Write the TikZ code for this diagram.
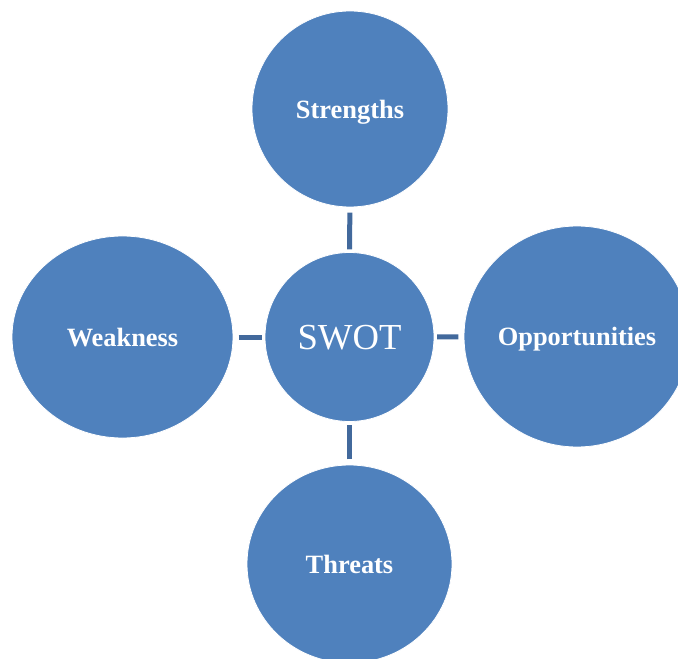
\documentclass[tikz,border=0pt]{standalone}
\usepackage{fontspec}
\setmainfont{Liberation Serif}
\usetikzlibrary{shapes.geometric}
\definecolor{fillblue}{HTML}{4F81BD}
\definecolor{connblue}{HTML}{42699C}
\tikzset{
  bubble/.style={ellipse, fill=fillblue, draw=white, line width=0.6pt, inner sep=0pt, text=white,
    text depth=0pt, font=\fontsize{19.8}{24}\selectfont\bfseries},
  conn/.style={draw=connblue, line width=3.75pt, shorten <=4pt, shorten >=2pt}
}
\begin{document}
\begin{tikzpicture}[x=0.75pt,y=-0.75pt]
\useasboundingbox (0,0) rectangle (678,659);
\clip (0,0) rectangle (678,659);
\node[bubble, minimum width=126.75pt, minimum height=126.75pt, font=\fontsize{27.5}{33}\selectfont] (swot) at (349.5,337) {SWOT};
\node[bubble, minimum width=147pt, minimum height=147pt] (str) at (350,109) {Strengths};
\node[bubble, minimum width=165.75pt, minimum height=151.5pt] (weak) at (122.5,337) {Weakness};
\node[bubble, minimum width=169.5pt, minimum height=165.75pt] (opp) at (577,336.5) {Opportunities};
\node[bubble, minimum width=153.75pt, minimum height=148.5pt] (thr) at (349.5,564) {Threats};
\draw[conn] (str) -- (swot);
\draw[conn] (weak) -- (swot);
\draw[conn] (opp) -- (swot);
\draw[conn] (thr) -- (swot);
\end{tikzpicture}
\end{document}
